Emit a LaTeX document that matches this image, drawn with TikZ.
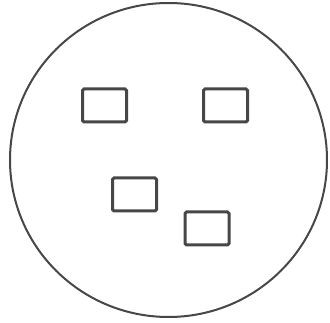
\documentclass[tikz,border=0pt]{standalone}
\begin{document}
\begin{tikzpicture}[
  x=1pt,
  y=-1pt,
  outline/.style={
    draw=black!72,
    line width=2pt
  },
  cellbox/.style={
    draw=black!72,
    line width=3pt,
    rounded corners=1.5pt,
    minimum width=44pt,
    minimum height=33pt,
    inner sep=0pt
  }
]

\useasboundingbox (0,0) rectangle (330,323);

\draw[outline] (168.5,160) ellipse [x radius=158.5pt, y radius=157pt];

\node[cellbox] (boxa) at (104.5,105.5) {};
\node[cellbox] (boxb) at (225.5,105.5) {};
\node[cellbox] (boxc) at (134.5,194.5) {};
\node[cellbox] (boxd) at (207,228.5) {};

\end{tikzpicture}
\end{document}
